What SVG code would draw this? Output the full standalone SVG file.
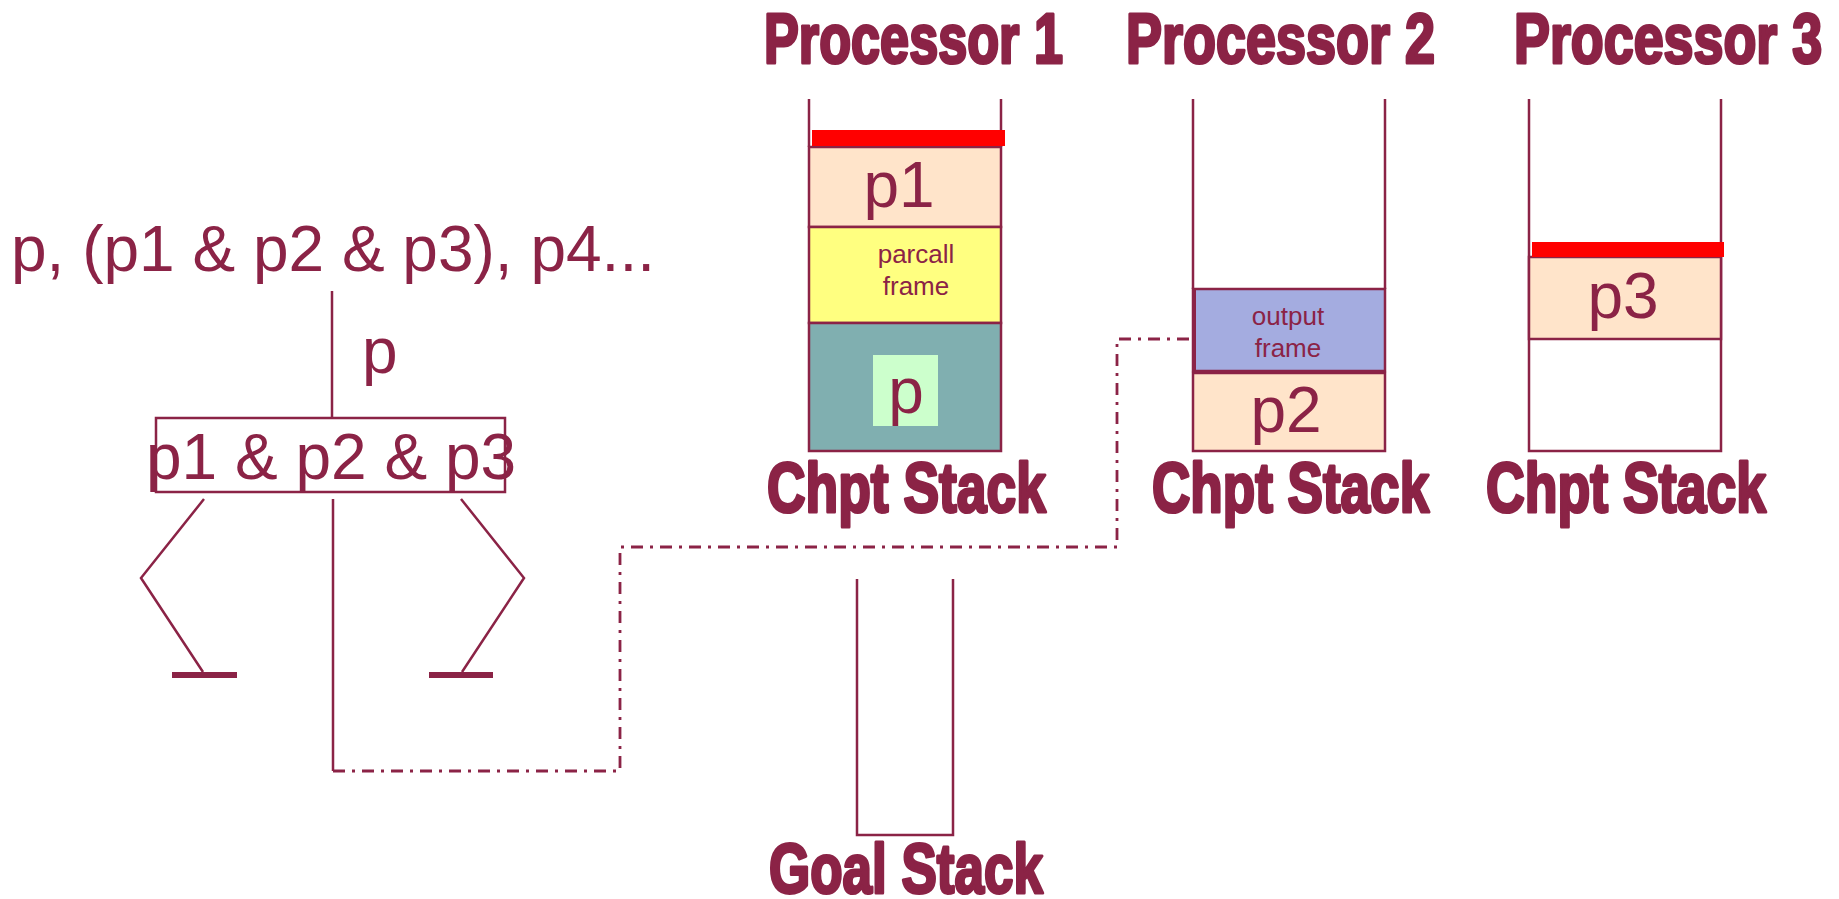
<svg xmlns="http://www.w3.org/2000/svg" width="1839" height="899" viewBox="0 0 1839 899">
  <style>
    .ln { stroke: #8B2346; stroke-width: 2.5; fill: none; }
    .frame { stroke: #8B2346; stroke-width: 2.5; }
    .foot { stroke: #8B2346; stroke-width: 6; fill: none; }
    .dashdot { stroke: #8B2346; stroke-width: 2.8; fill: none; stroke-dasharray: 12 7 3 7; }
    .big { font-family: "Liberation Sans", Arial, sans-serif; font-size: 64px; fill: #8B2346; }
    .small { font-family: "Liberation Sans", Arial, sans-serif; font-size: 26px; fill: #8B2346; text-anchor: middle; }
    .head { font-family: "Liberation Sans", Arial, sans-serif; font-weight: bold; font-size: 70px; fill: #8B2346; stroke: #8B2346; stroke-width: 3.2; stroke-linejoin: round; }
    .top { fill: #FF0000; }
    .goal { fill: #FFE4CA; }
  </style>

  <!-- page background -->
  <rect x="0" y="0" width="1839" height="899" fill="#FFFFFF"/>

  <!-- goal expression -->
  <g id="expression">
    <text class="big" x="11" y="271">p, (p1 &amp; p2 &amp; p3), p4...</text>
  </g>

  <!-- parallel conjunction node of the and-tree -->
  <g id="parcall-node">
    <rect class="ln" x="156" y="418" width="349" height="74"/>
    <text class="big" x="146" y="479">p1 &amp; p2 &amp; p3</text>
  </g>

  <g id="label-p">
    <text class="big" x="362" y="373">p</text>
  </g>

  <!-- tree edges and the link to the output frame -->
  <g id="connectors">
    <line class="ln" x1="332" y1="291" x2="332" y2="418"/>
    <polyline class="ln" points="204,499 141,578 203,672"/>
    <line class="foot" x1="172" y1="675" x2="237" y2="675"/>
    <line class="ln" x1="333" y1="499" x2="333" y2="771"/>
    <polyline class="ln" points="461,499 524,578 462,672"/>
    <line class="foot" x1="429" y1="675" x2="493" y2="675"/>
    <path class="dashdot" d="M333,771 H620 V547 H1117 V339 H1195"/>
  </g>

  <!-- processor headings (condensed bold) -->
  <g id="heading-1"><text class="head" transform="translate(764,63) scale(0.746,1)">Processor 1</text></g>
  <g id="heading-2"><text class="head" transform="translate(1126,63) scale(0.771,1)">Processor 2</text></g>
  <g id="heading-3"><text class="head" transform="translate(1514,63) scale(0.769,1)">Processor 3</text></g>

  <!-- choicepoint stack of processor 1 -->
  <g id="stack-1">
    <line class="ln" x1="809" y1="99" x2="809" y2="147"/>
    <line class="ln" x1="1001" y1="99" x2="1001" y2="147"/>
    <rect class="frame goal" x="809" y="147" width="192" height="80"/>
    <rect class="frame" x="809" y="227" width="192" height="96" fill="#FFFF80"/>
    <rect class="frame" x="809" y="323" width="192" height="128" fill="#80AFB0"/>
    <rect class="top" x="812" y="130" width="193" height="16"/>
    <rect x="873" y="355" width="65" height="71" fill="#CCFFCC"/>
    <text class="big" x="899" y="207" text-anchor="middle" font-size="63">p1</text>
    <text class="small" x="916" y="263">parcall</text>
    <text class="small" x="916" y="295">frame</text>
    <text class="big" x="906" y="413" text-anchor="middle">p</text>
    <text class="head" transform="translate(767,512) scale(0.763,1)">Chpt Stack</text>
  </g>

  <!-- choicepoint stack of processor 2 -->
  <g id="stack-2">
    <line class="ln" x1="1193" y1="99" x2="1193" y2="289"/>
    <line class="ln" x1="1385" y1="99" x2="1385" y2="289"/>
    <rect class="frame goal" x="1193" y="373" width="192" height="78"/>
    <rect class="frame" x="1193" y="289" width="192" height="82" fill="#A4ACE0"/>
    <line x1="1194" y1="289" x2="1194" y2="372" stroke="#8B2346" stroke-width="4"/>
    <text class="small" x="1288" y="325">output</text>
    <text class="small" x="1288" y="357">frame</text>
    <text class="big" x="1286" y="432" text-anchor="middle" font-size="62">p2</text>
    <text class="head" transform="translate(1152,512) scale(0.758,1)">Chpt Stack</text>
  </g>

  <!-- choicepoint stack of processor 3 -->
  <g id="stack-3">
    <path class="ln" d="M1529,99 V451 H1721 V99"/>
    <rect class="frame goal" x="1529" y="257" width="192" height="82"/>
    <rect class="top" x="1532" y="242" width="192" height="15"/>
    <text class="big" x="1623" y="318" text-anchor="middle" font-size="62">p3</text>
    <text class="head" transform="translate(1486,512) scale(0.766,1)">Chpt Stack</text>
  </g>

  <!-- shared goal stack -->
  <g id="goal-stack">
    <path class="ln" d="M857,579 V835 H953 V579"/>
    <text class="head" transform="translate(769,893) scale(0.757,1)">Goal Stack</text>
  </g>
</svg>
